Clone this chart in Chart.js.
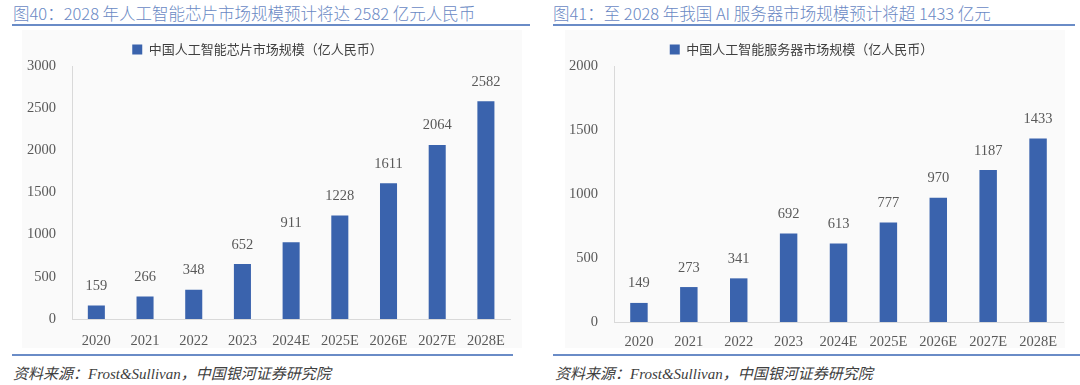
<!DOCTYPE html>
<html>
<head>
<meta charset="utf-8">
<script src="https://cdn.jsdelivr.net/npm/chart.js@4.4.0/dist/chart.umd.min.js"></script>
<style>
  html, body { margin: 0; padding: 0; background: #fff; }
  body { width: 1080px; height: 385px; position: relative; overflow: hidden; }
  .title { position: absolute; top: 1px; font: 300 16.5px "Noto Sans CJK SC", sans-serif; color: #6a89c4; white-space: nowrap; }
  .rule { position: absolute; height: 2px; background: #6a8cc7; }
  .panel { position: absolute; top: 30px; height: 318px; background: #fafafa; }
  .src { position: absolute; top: 362px; font: italic 15px "Liberation Serif", "Noto Sans CJK SC", serif; color: #404040; white-space: nowrap; }
  .box { position: absolute; top: 30px; height: 325px; }
</style>
</head>
<body>
<div class="title" style="left:13px">图40：2028 年人工智能芯片市场规模预计将达 2582 亿元人民币</div>
<div class="rule" style="left:12px; width:518px; top:24px"></div>
<div class="title" style="left:553px">图41：至 2028 年我国 AI 服务器市场规模预计将超 1433 亿元</div>
<div class="rule" style="left:553px; width:522px; top:24px"></div>

<div class="panel" style="left:22px; width:500px"></div>
<div class="panel" style="left:565px; width:500px"></div>

<div class="box" style="left:0px; width:518px"><canvas id="chart0"></canvas></div>
<div class="box" style="left:540px; width:530px"><canvas id="chart1"></canvas></div>

<div class="rule" style="left:12px; width:501px; top:354px"></div>
<div class="rule" style="left:553px; width:527px; top:354px"></div>
<div class="src" style="left:13px">资料来源：Frost&amp;Sullivan，中国银河证券研究院</div>
<div class="src" style="left:555px">资料来源：Frost&amp;Sullivan，中国银河证券研究院</div>

<script>
const years = ["2020", "2021", "2022", "2023", "2024E", "2025E", "2026E", "2027E", "2028E"];
const chipLabel = "中国人工智能芯片市场规模（亿人民币）";
const chipValues = [159, 266, 348, 652, 911, 1228, 1611, 2064, 2582];
const serverLabel = "中国人工智能服务器市场规模（亿人民币）";
const serverValues = [149, 273, 341, 692, 613, 777, 970, 1187, 1433];

const barBlue = '#3a63ad';
const tickFont = { family: '"Liberation Serif", serif', size: 14.5 };

// values above each bar
const barValues = {
  id: 'barValues',
  afterDatasetsDraw(chart) {
    const ctx = chart.ctx;
    const meta = chart.getDatasetMeta(0);
    ctx.save();
    ctx.font = '14.5px "Liberation Serif", serif';
    ctx.fillStyle = '#595959';
    ctx.textAlign = 'center';
    ctx.textBaseline = 'bottom';
    meta.data.forEach((bar, i) => {
      ctx.fillText(chart.data.datasets[0].data[i], bar.x, bar.y - 12);
    });
    ctx.restore();
  }
};

function makeChart(id, label, values, yMax, yStep, opts) {
  return new Chart(document.getElementById(id), {
    type: 'bar',
    data: {
      labels: years,
      datasets: [{
        label: label,
        data: values,
        backgroundColor: barBlue,
        borderColor: barBlue,
        categoryPercentage: 1,
        barPercentage: 0.35
      }]
    },
    options: {
      responsive: true,
      maintainAspectRatio: false,
      animation: false,
      layout: { padding: opts.padding },
      plugins: {
        tooltip: { enabled: false },
        legend: {
          display: true,
          position: 'top',
          labels: {
            boxWidth: 10,
            boxHeight: 10,
            color: '#404040',
            font: { family: '"Noto Sans CJK SC", sans-serif', size: 13 },
            padding: opts.legendPad
          }
        }
      },
      scales: {
        x: {
          grid: { display: false, drawTicks: false },
          border: { display: true, color: '#d9d9d9', width: 1 },
          ticks: { color: '#595959', font: tickFont, padding: opts.xPad, maxRotation: 0 },
          afterFit(scale) { scale.height = opts.xHeight; }
        },
        y: {
          min: 0,
          max: yMax,
          grid: { display: false, drawTicks: false },
          border: { display: true, color: '#d9d9d9', width: 1 },
          ticks: {
            stepSize: yStep, color: '#595959', font: tickFont, padding: 16,
            callback: (v) => String(v)
          },
          afterFit(scale) { scale.width = opts.yWidth; }
        }
      }
    },
    plugins: [barValues]
  });
}

const myChart0 = makeChart('chart0', chipLabel, chipValues, 3000, 500,
  { padding: { top: 0, right: 3, bottom: 0, left: 0 }, legendPad: 13, xHeight: 36, yWidth: 72, xPad: 13 });
const myChart1 = makeChart('chart1', serverLabel, serverValues, 2000, 500,
  { padding: { top: 3, right: 7, bottom: 0, left: 0 }, legendPad: 10, xHeight: 33, yWidth: 74, xPad: 11 });
</script>
</body>
</html>
